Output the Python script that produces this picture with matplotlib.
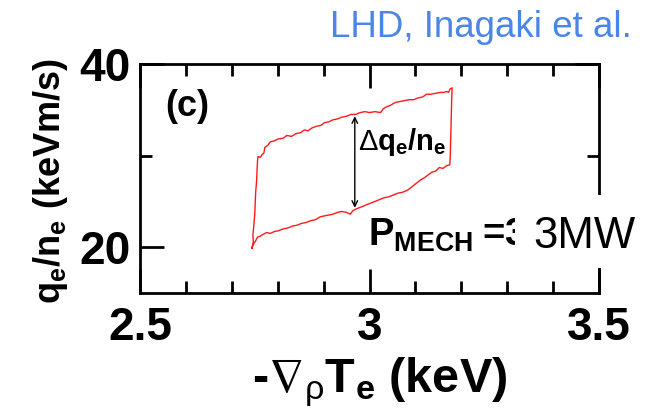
import matplotlib
matplotlib.use("Agg")
import matplotlib.pyplot as plt
from matplotlib.ticker import MultipleLocator, FixedFormatter, FixedLocator
from matplotlib.patches import Rectangle

plt.rcParams['font.family'] = ['Liberation Sans', 'DejaVu Sans']
plt.rcParams['mathtext.fontset'] = 'custom'
plt.rcParams['mathtext.rm'] = 'Liberation Sans'
plt.rcParams['mathtext.bf'] = 'Liberation Sans:bold'
plt.rcParams['mathtext.it'] = 'Liberation Sans:italic'
plt.rcParams['mathtext.sf'] = 'Liberation Sans'
plt.rcParams['mathtext.fallback'] = 'stixsans'

# ---- data ----
loop_x = [2.744, 2.747, 2.746, 2.748, 2.750, 2.751, 2.752, 2.754, 2.755, 2.756, 2.757,
          2.762, 2.766, 2.770, 2.772, 2.778, 2.784, 2.792, 2.800, 2.812, 2.820, 2.830,
          2.840, 2.850, 2.858, 2.866, 2.874, 2.884, 2.894, 2.902, 2.912, 2.920, 2.930,
          2.940, 2.950, 2.960, 2.970, 2.980, 2.990, 3.000, 3.012, 3.024, 3.030, 3.036,
          3.046, 3.056, 3.066, 3.076, 3.086, 3.096, 3.106, 3.116, 3.124, 3.134, 3.144,
          3.154, 3.162, 3.168, 3.172, 3.176, 3.180,
          3.179, 3.178, 3.177, 3.176, 3.175,
          3.168, 3.160, 3.152, 3.144, 3.136, 3.128, 3.120, 3.110, 3.100, 3.090, 3.082,
          3.072, 3.062, 3.052, 3.042, 3.032, 3.022, 3.012, 3.002, 2.992, 2.982, 2.972,
          2.964, 2.958, 2.950, 2.940, 2.930, 2.920, 2.910, 2.900, 2.892, 2.882, 2.872,
          2.862, 2.852, 2.842, 2.832, 2.822, 2.812, 2.802, 2.792, 2.784, 2.776, 2.768,
          2.762, 2.756, 2.752, 2.748, 2.745, 2.744]
loop_y = [19.9, 20.6, 21.3, 22.4, 23.6, 24.8, 26.0, 27.2, 28.4, 29.4, 29.9,
          29.8, 30.1, 30.3, 30.9, 31.1, 31.5, 31.6, 31.8, 31.9, 32.2, 32.1,
          32.4, 32.5, 32.8, 32.7, 33.0, 33.2, 33.3, 33.6, 33.7, 33.9, 34.0,
          34.2, 34.3, 34.5, 34.5, 34.7, 34.8, 34.7, 34.8, 34.7, 35.1, 35.3,
          35.5, 35.8, 35.9, 36.0, 36.1, 36.1, 36.3, 36.4, 36.7, 36.7, 36.8,
          36.9, 36.9, 37.0, 36.9, 37.3, 37.4,
          36.0, 34.0, 32.0, 30.0, 29.0,
          28.9, 28.6, 28.7, 28.3, 28.2, 27.9, 27.6, 27.3, 26.9, 26.5, 26.2,
          26.0, 25.9, 25.7, 25.5, 25.4, 25.2, 25.0, 24.8, 24.6, 24.4, 24.2,
          24.0, 23.6, 23.8, 23.9, 23.8, 23.6, 23.5, 23.4, 23.3, 23.0, 22.9,
          22.7, 22.6, 22.4, 22.3, 22.1, 22.0, 21.8, 21.7, 21.5, 21.6, 21.4,
          21.2, 21.1, 20.7, 20.4, 20.1, 19.9]

arrow_x = 2.968
arrow_y_top = 34.3
arrow_y_bot = 24.3

x_ticks = [2.5, 3.0, 3.5]
x_ticklabels = ['2.5', '3', '3.5']
y_ticks = [20, 40]
y_ticklabels = ['20', '40']

# ---- figure ----
fig = plt.figure(figsize=(6.52, 4.16), dpi=100)
ax = fig.add_axes([140/652, 123/416, 459/652, 229/416])

ax.plot(loop_x, loop_y, color='#ff1a1a', lw=1.0)

ax.annotate('', xy=(arrow_x, arrow_y_top), xytext=(arrow_x, arrow_y_bot),
            arrowprops=dict(arrowstyle='<->', color='black', lw=1.0,
                            shrinkA=0, shrinkB=0))

ax.set_xlim(2.5, 3.5)
ax.set_ylim(15, 40)

ax.xaxis.set_major_locator(FixedLocator(x_ticks))
ax.xaxis.set_major_formatter(FixedFormatter(x_ticklabels))
ax.xaxis.set_minor_locator(MultipleLocator(0.1))
ax.yaxis.set_major_locator(FixedLocator(y_ticks))
ax.yaxis.set_major_formatter(FixedFormatter(y_ticklabels))
ax.yaxis.set_minor_locator(MultipleLocator(10))

for s in ax.spines.values():
    s.set_linewidth(2.0)
ax.tick_params(which='both', direction='in', top=True, right=True, width=2.0)
ax.tick_params(which='major', length=17, labelsize=33, pad=7)
ax.tick_params(axis='x', which='major', pad=9)
ax.tick_params(which='minor', length=8.6)
for lab in ax.get_xticklabels() + ax.get_yticklabels():
    lab.set_fontweight('bold')

ax.set_xlabel(r'-$\nabla_{\mathrm{\rho}}\mathbf{T}_{\mathbf{e}}$ (keV)', fontsize=35,
              fontweight='bold')
ax.xaxis.set_label_coords(0.523, -0.27)
ax.set_ylabel(r'$\mathbf{q}_{\mathbf{e}}\mathbf{/n}_{\mathbf{e}}$ (keVm/s)', fontsize=26,
              fontweight='bold')
ax.yaxis.set_label_coords(-0.153, 0.49)

ax.text(0.054, 0.89, '(c)', transform=ax.transAxes, fontsize=26,
        fontweight='bold', va='top', ha='left')
ax.text(2.975, 30.6, r'$\Delta\mathbf{q}_{\mathbf{e}}\mathbf{/n}_{\mathbf{e}}$',
        fontsize=21, va='baseline', ha='left')
ax.text(2.997, 20.2, r'$\mathbf{P}_{\mathbf{MECH}}\;$=3', fontsize=27.5,
        fontweight='bold', va='baseline', ha='left')

# white cover box with overlaid "3MW"
fig.patches.append(Rectangle((515/652, 148/416), 133/652, 73/416,
                             transform=fig.transFigure, facecolor='white',
                             edgecolor='none', zorder=10))
fig.text(533/652, 168/416, '3MW', fontsize=31.5, color='black',
         va='baseline', ha='left', zorder=11)

fig.text(330/652, 379/416, 'LHD, Inagaki et al.', fontsize=26.5,
         color='#4a86e8', va='baseline', ha='left', zorder=11)

fig.savefig('out.png', dpi=100, facecolor='white')
